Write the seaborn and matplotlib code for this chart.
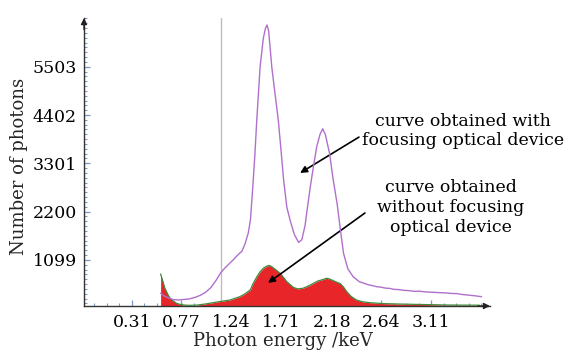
import numpy as np
import pandas as pd
import matplotlib
matplotlib.use("Agg")
import matplotlib.pyplot as plt
import seaborn as sns
from matplotlib.ticker import FixedLocator, FixedFormatter

# Axis ticks
x_ticks = [0.31, 0.77, 1.24, 1.71, 2.18, 2.64, 3.11]
x_tick_labels = ["0.31", "0.77", "1.24", "1.71", "2.18", "2.64", "3.11"]
y_ticks = [1099, 2200, 3301, 4402, 5503]
y_tick_labels = ["1099", "2200", "3301", "4402", "5503"]

# Spectrum measured with the focusing optical device (keV, counts)
focus_energy = [0.58, 0.62, 0.66, 0.70, 0.75, 0.80, 0.85, 0.90, 0.95, 1.00,
                1.05, 1.10, 1.14, 1.18, 1.22, 1.26, 1.30, 1.34, 1.37, 1.40,
                1.42, 1.44, 1.46, 1.48, 1.51, 1.54, 1.56, 1.575, 1.59, 1.605,
                1.62, 1.65, 1.68, 1.71, 1.73, 1.76, 1.79, 1.83, 1.87, 1.90,
                1.93, 1.95, 1.98, 2.01, 2.04, 2.07, 2.095, 2.12, 2.16, 2.19,
                2.23, 2.26, 2.29, 2.33, 2.38, 2.44, 2.48, 2.52, 2.56, 2.60,
                2.64, 2.68, 2.72, 2.76, 2.80, 2.85, 2.90, 2.95, 3.00, 3.05,
                3.10, 3.15, 3.20, 3.25, 3.30, 3.35, 3.40, 3.45, 3.50, 3.54,
                3.58]
focus_counts = [340, 270, 228, 195, 188, 200, 212, 245, 292, 362,
                470, 640, 800, 915, 1010, 1105, 1210, 1300, 1470, 1720,
                2020, 2700, 3450, 4330, 5500, 6150, 6380, 6455, 6320, 5900,
                5480, 4880, 4290, 3480, 2920, 2300, 2010, 1680, 1500, 1560,
                1880, 2250, 2780, 3250, 3690, 3960, 4090, 3960, 3520, 2980,
                2380, 1800, 1250, 900, 715, 600, 570, 535, 515, 490,
                480, 458, 452, 430, 425, 408, 400, 385, 388, 372,
                366, 360, 352, 348, 336, 332, 312, 300, 288, 275,
                262]

# Spectrum measured without the focusing optical device (keV, counts)
plain_energy = [0.58, 0.60, 0.62, 0.65, 0.67, 0.70, 0.73, 0.76, 0.79, 0.85,
                0.92, 1.01, 1.07, 1.13, 1.23, 1.32, 1.37, 1.42, 1.44, 1.48,
                1.51, 1.54, 1.57, 1.59, 1.61, 1.63, 1.66, 1.70, 1.76, 1.82,
                1.86, 1.91, 1.96, 2.01, 2.05, 2.10, 2.13, 2.16, 2.21, 2.26,
                2.29, 2.32, 2.36, 2.41, 2.47, 2.54, 2.66, 2.79, 3.00, 3.25,
                3.42, 3.56]
plain_counts = [780, 620, 454, 300, 225, 160, 110, 88, 73, 65,
                70, 100, 125, 150, 187, 262, 330, 420, 540, 718,
                830, 910, 955, 975, 960, 925, 870, 790, 604, 476,
                440, 454, 505, 568, 620, 655, 682, 665, 610, 560,
                480, 376, 270, 187, 145, 125, 105, 96, 85, 73,
                70, 68]

# Reference energy marker (keV)
marker_energy = 1.14

W, H = 575, 350
fig = plt.figure(figsize=(W / 100, H / 100), dpi=100)
sns.set_theme(style="white")
plt.rcParams["font.family"] = ["DejaVu Serif"]

ax = fig.add_axes([84 / W, 1 - 306 / H, (490 - 84) / W, (306 - 18) / H])
ax.set_facecolor("white")

purple = "#b070cc"
red = "#e8262a"
green = "#3f8a3c"

ax.axvline(marker_energy, color="#bdbdbd", lw=1.0, zorder=1)

ax.fill_between(plain_energy, 0, plain_counts, color=red, lw=0, zorder=2)
sns.lineplot(x=plain_energy, y=plain_counts, ax=ax, color=green, lw=0.9,
             sort=False, estimator=None, zorder=3)
sns.lineplot(x=focus_energy, y=focus_counts, ax=ax, color=purple, lw=1.0,
             sort=False, estimator=None, zorder=4)

ax.set_xlim(-0.136, 3.659)
ax.set_ylim(50, 6615)
ax.set_xlabel("")
ax.set_ylabel("")

for s in ["top", "right"]:
    ax.spines[s].set_visible(False)
for s in ["left", "bottom"]:
    ax.spines[s].set_color("#333333")
    ax.spines[s].set_linewidth(1.0)

ax.xaxis.set_major_locator(FixedLocator(x_ticks))
ax.xaxis.set_major_formatter(FixedFormatter(x_tick_labels))
ax.yaxis.set_major_locator(FixedLocator(y_ticks))
ax.yaxis.set_major_formatter(FixedFormatter(y_tick_labels))
ax.xaxis.set_minor_locator(FixedLocator(np.arange(0.31 - 0.1167 * 3, 3.66, 0.1167)))
ax.yaxis.set_minor_locator(FixedLocator(np.arange(110.1, 6615, 110.1)))
tick_color = "#7d9bc9"
ax.tick_params(which="major", direction="in", length=4, width=0.9,
               color=tick_color, labelsize=12.5, labelcolor="black")
ax.tick_params(which="minor", direction="in", length=2.5, width=0.8,
               color=tick_color)
ax.tick_params(axis="x", which="both", bottom=True, pad=6)
ax.tick_params(axis="y", which="both", left=True, pad=5)
for lab in ax.get_xticklabels() + ax.get_yticklabels():
    lab.set_fontfamily("DejaVu Serif")

# arrowheads at the ends of both axes
ax.annotate("", xy=(1.0, 0), xytext=(0.97, 0), xycoords="axes fraction",
            arrowprops=dict(arrowstyle="-|>", color="#222222", lw=1.0,
                            mutation_scale=9, shrinkA=0, shrinkB=0),
            annotation_clip=False)
ax.annotate("", xy=(0, 1.0), xytext=(0, 0.96), xycoords="axes fraction",
            arrowprops=dict(arrowstyle="-|>", color="#222222", lw=1.0,
                            mutation_scale=9, shrinkA=0, shrinkB=0),
            annotation_clip=False)


def fx(px):
    return px / W


def fy(py):
    return 1 - py / H


text_kw = dict(family="DejaVu Serif", size=12.5, color="black",
               ha="center", va="baseline")
fig.text(fx(463), fy(125.5), "curve obtained with", **text_kw)
fig.text(fx(463), fy(145), "focusing optical device", **text_kw)
fig.text(fx(451), fy(191.5), "curve obtained", **text_kw)
fig.text(fx(451), fy(211.5), "without focusing", **text_kw)
fig.text(fx(451), fy(231.5), "optical device", **text_kw)

arrow_kw = dict(arrowstyle="-|>", color="black", lw=1.2, mutation_scale=10,
                shrinkA=0, shrinkB=0)
ax.annotate("", xy=(1.884, 3082), xytext=(2.434, 3900), arrowprops=arrow_kw)
ax.annotate("", xy=(1.584, 575), xytext=(2.49, 2170), arrowprops=arrow_kw)

fig.text(fx(19.5), fy(166), "Number of photons", family="DejaVu Serif",
         size=13, rotation=90, ha="center", va="center")
fig.text(fx(283), fy(345.5), "Photon energy /keV", family="DejaVu Serif",
         size=13, ha="center", va="baseline")

fig.savefig("out.png", dpi=100)
